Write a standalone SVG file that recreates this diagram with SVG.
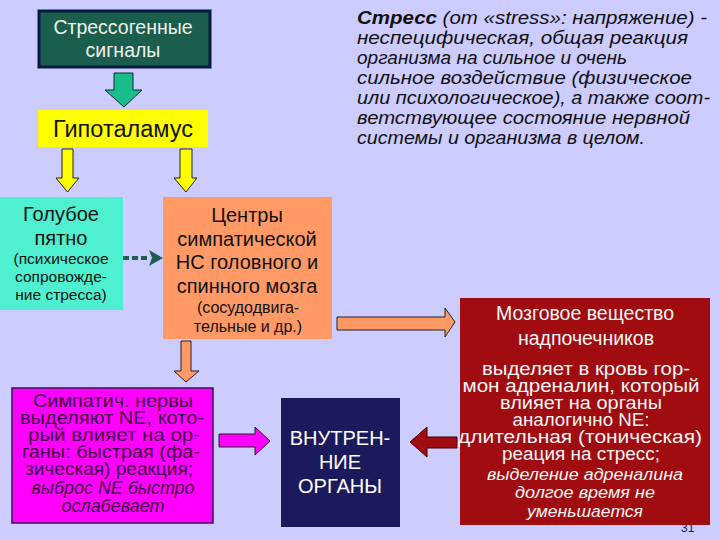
<svg xmlns="http://www.w3.org/2000/svg" width="720" height="540" viewBox="0 0 720 540">
<style>
text{font-family:"Liberation Sans",Arial,sans-serif;}
.c{text-anchor:middle;}
.it{font-style:italic;}
.dk{fill:#111111;}
.pu{fill:#400040;font-size:17.5px;}
.wh{fill:#F5F5F5;}
.df{font-size:19px;font-style:italic;fill:#111111;}
</style>
<rect x="0" y="0" width="720" height="540" fill="#CCCCFF"/>
<text x="681" y="532" font-size="12" fill="#222244">31</text>

<g id="connectors">
  <polygon points="114,73 133,73 133,90 142,90 124,107 105,90 114,90" fill="#1ABC8C" stroke="#0A2A30" stroke-width="1"/>
  <polygon points="62,149 73,149 73,178 79,178 67.5,192 56,178 62,178" fill="#FFFF00" stroke="#222" stroke-width="1"/>
  <polygon points="180,149 192,149 192,178 197,178 186,192 174,178 180,178" fill="#FFFF00" stroke="#222" stroke-width="1"/>
  <line x1="123" y1="258" x2="150" y2="258" stroke="#1F5F4F" stroke-width="4" stroke-dasharray="6,3"/>
  <polygon points="149,250 163,258 149,266 152,258" fill="#1F5F4F"/>
  <polygon points="337,317 445,317 445,308 455,322 445,337 445,330 337,330" fill="#FF9966" stroke="#222" stroke-width="1"/>
  <polygon points="181,341 191,341 191,371 199,371 186,382 174,371 181,371" fill="#FF9966" stroke="#222" stroke-width="1"/>
  <polygon points="219,434 255,434 255,427 270,441 255,455 255,447 219,447" fill="#FF00FF" stroke="#222" stroke-width="1"/>
  <polygon points="457,437 427,437 427,427 410,442 427,457 427,448 457,448" fill="#A00C10" stroke="#400" stroke-width="1"/>
</g>

<g id="n-signals">
  <rect x="39" y="11" width="171" height="56" fill="#1B5E4B" stroke="#0A1A40" stroke-width="3"/>
  <text class="c" x="123" y="34" font-size="19.5" fill="#F0F0F0">Стрессогенные</text>
  <text class="c" x="123" y="57" font-size="19.5" fill="#F0F0F0">сигналы</text>
</g>

<g id="n-hypothalamus">
  <rect x="38" y="110" width="170" height="37" fill="#FFFF00"/>
  <text class="c dk" x="123" y="137" font-size="23.5">Гипоталамус</text>
</g>

<g id="n-locus">
  <rect x="0" y="197" width="123" height="113" fill="#4FF0D0"/>
  <text class="c dk" x="61" y="221" font-size="20">Голубое</text>
  <text class="c dk" x="61" y="245" font-size="20">пятно</text>
  <text class="c dk" x="61" y="264" font-size="15.5">(психическое</text>
  <text class="c dk" x="61" y="282" font-size="15.5">сопровожде-</text>
  <text class="c dk" x="61" y="300" font-size="15.5">ние стресса)</text>
</g>

<g id="n-centers">
  <rect x="163" y="197" width="169" height="142" fill="#FF9966"/>
  <text class="c dk" x="247" y="222" font-size="20">Центры</text>
  <text class="c dk" x="247" y="246" font-size="20">симпатической</text>
  <text class="c dk" x="247" y="269" font-size="20">НС головного и</text>
  <text class="c dk" x="247" y="293" font-size="20">спинного мозга</text>
  <text class="c dk" x="248" y="313" font-size="16">(сосудодвига-</text>
  <text class="c dk" x="248" y="332" font-size="16">тельные и др.)</text>
</g>

<g id="n-definition">
  <text class="df" x="357" y="24" textLength="350" lengthAdjust="spacingAndGlyphs"><tspan font-weight="bold">Стресс</tspan> (от «stress»: напряжение) -</text>
  <text class="df" x="357" y="44" textLength="331" lengthAdjust="spacingAndGlyphs">неспецифическая, общая реакция</text>
  <text class="df" x="357" y="64" textLength="270" lengthAdjust="spacingAndGlyphs">организма на сильное и очень</text>
  <text class="df" x="357" y="84" textLength="335" lengthAdjust="spacingAndGlyphs">сильное воздействие (физическое</text>
  <text class="df" x="357" y="104" textLength="353" lengthAdjust="spacingAndGlyphs">или психологическое), а также соот-</text>
  <text class="df" x="357" y="124" textLength="333" lengthAdjust="spacingAndGlyphs">ветствующее состояние  нервной</text>
  <text class="df" x="357" y="144" textLength="288" lengthAdjust="spacingAndGlyphs">системы и организма в целом.</text>
</g>

<g id="n-nerves">
  <rect x="12" y="388" width="201" height="135" fill="#FF00FF" stroke="#3A1050" stroke-width="1.5"/>
  <text class="c pu" x="113" y="407" textLength="160" lengthAdjust="spacingAndGlyphs">Симпатич. нервы</text>
  <text class="c pu" x="112" y="424" textLength="184" lengthAdjust="spacingAndGlyphs">выделяют NE, кото-</text>
  <text class="c pu" x="114" y="441" textLength="172" lengthAdjust="spacingAndGlyphs">рый влияет на ор-</text>
  <text class="c pu" x="111" y="458" textLength="178" lengthAdjust="spacingAndGlyphs">ганы: быстрая (фа-</text>
  <text class="c pu" x="109" y="475" textLength="168" lengthAdjust="spacingAndGlyphs">зическая) реакция;</text>
  <text class="c pu it" x="113" y="494" font-size="16" textLength="163" lengthAdjust="spacingAndGlyphs">выброс NE быстро</text>
  <text class="c pu it" x="113" y="512" font-size="16" textLength="103" lengthAdjust="spacingAndGlyphs">ослабевает</text>
</g>

<g id="n-organs">
  <rect x="281" y="398" width="119" height="129" fill="#1A1A5C"/>
  <text class="c" x="340" y="445" font-size="20" fill="#FFFFFF">ВНУТРЕН-</text>
  <text class="c" x="340" y="469" font-size="20" fill="#FFFFFF">НИЕ</text>
  <text class="c" x="340" y="493" font-size="20" fill="#FFFFFF">ОРГАНЫ</text>
</g>

<g id="n-adrenal">
  <rect x="460" y="298" width="250" height="227" fill="#A00C10"/>
  <text class="c wh" x="585" y="320" font-size="19.5">Мозговое вещество</text>
  <text class="c wh" x="586" y="345" font-size="19.5">надпочечников</text>
  <text class="c wh" x="586" y="375" font-size="17.5" textLength="208" lengthAdjust="spacingAndGlyphs">выделяет в кровь гор-</text>
  <text class="c wh" x="581" y="392" font-size="17.5" textLength="237" lengthAdjust="spacingAndGlyphs">мон адреналин, который</text>
  <text class="c wh" x="581" y="409" font-size="17.5" textLength="162" lengthAdjust="spacingAndGlyphs">влияет на  органы</text>
  <text class="c wh" x="581" y="426" font-size="17.5" textLength="137" lengthAdjust="spacingAndGlyphs">аналогично NE:</text>
  <text class="c wh" x="580" y="443" font-size="17.5" textLength="244" lengthAdjust="spacingAndGlyphs">длительная (тоническая)</text>
  <text class="c wh" x="581" y="460" font-size="17.5" textLength="158" lengthAdjust="spacingAndGlyphs">реация на стресс;</text>
  <text class="c wh it" x="585" y="480" font-size="16" textLength="196" lengthAdjust="spacingAndGlyphs">выделение адреналина</text>
  <text class="c wh it" x="585" y="498" font-size="16" textLength="140" lengthAdjust="spacingAndGlyphs">долгое время не</text>
  <text class="c wh it" x="585" y="517" font-size="16" textLength="116" lengthAdjust="spacingAndGlyphs">уменьшается</text>
</g>
</svg>
